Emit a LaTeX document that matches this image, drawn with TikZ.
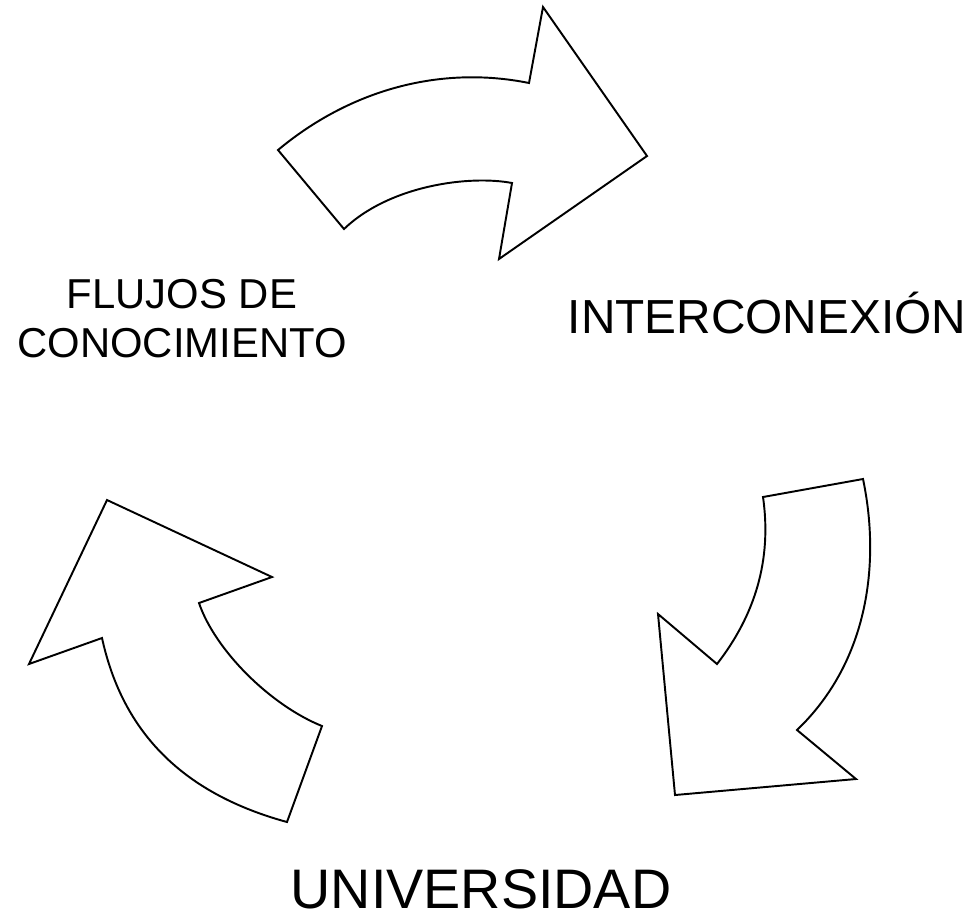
\documentclass[tikz,border=0pt]{standalone}
\usepackage{fontspec}
\setmainfont{Liberation Sans}
\usetikzlibrary{positioning}

\begin{document}
\begin{tikzpicture}[x=0.02cm,y=-0.02cm,
                    bigarrow/.style={draw,line width=1.1pt,line join=miter,fill=white},
                    lbl/.style={inner sep=0pt,anchor=base,align=center}]
                      \useasboundingbox (0,0) rectangle (972,914);
                      % top arrow
                      \draw[bigarrow] (278,150) .. controls (350,90) and (440,65) .. (529,83)
                        -- (543,7) -- (647,156) -- (499,259) -- (512,183)
                        .. controls (470,175) and (390,185) .. (344,229) -- cycle;
                      % right arrow
                      \draw[bigarrow] (863,479) .. controls (880,560) and (870,660) .. (797,730)
                        -- (856,779) -- (675,795) -- (658,614) -- (717,664)
                        .. controls (755,615) and (772,560) .. (763,497) -- cycle;
                      % left arrow
                      \draw[bigarrow] (322,726) .. controls (270,705) and (215,650) .. (199,603)
                        -- (272,577) -- (107,500) -- (29,664) -- (102,638)
                        .. controls (120,720) and (170,790) .. (287,822) -- cycle;
                      \node[lbl,font=\fontsize{23.8}{27.8}\selectfont] (flujos) at (182,357) {FLUJOS DE\\CONOCIMIENTO};
                      \node[lbl,font=\fontsize{27.2}{32}\selectfont] (inter) at (767,333) {INTERCONEXIÓN};
                      \node[lbl,text depth=0pt,font=\fontsize{31.7}{38}\selectfont] (univ) at (481,908) {UNIVERSIDAD};
                  \end{tikzpicture}
\end{document}
